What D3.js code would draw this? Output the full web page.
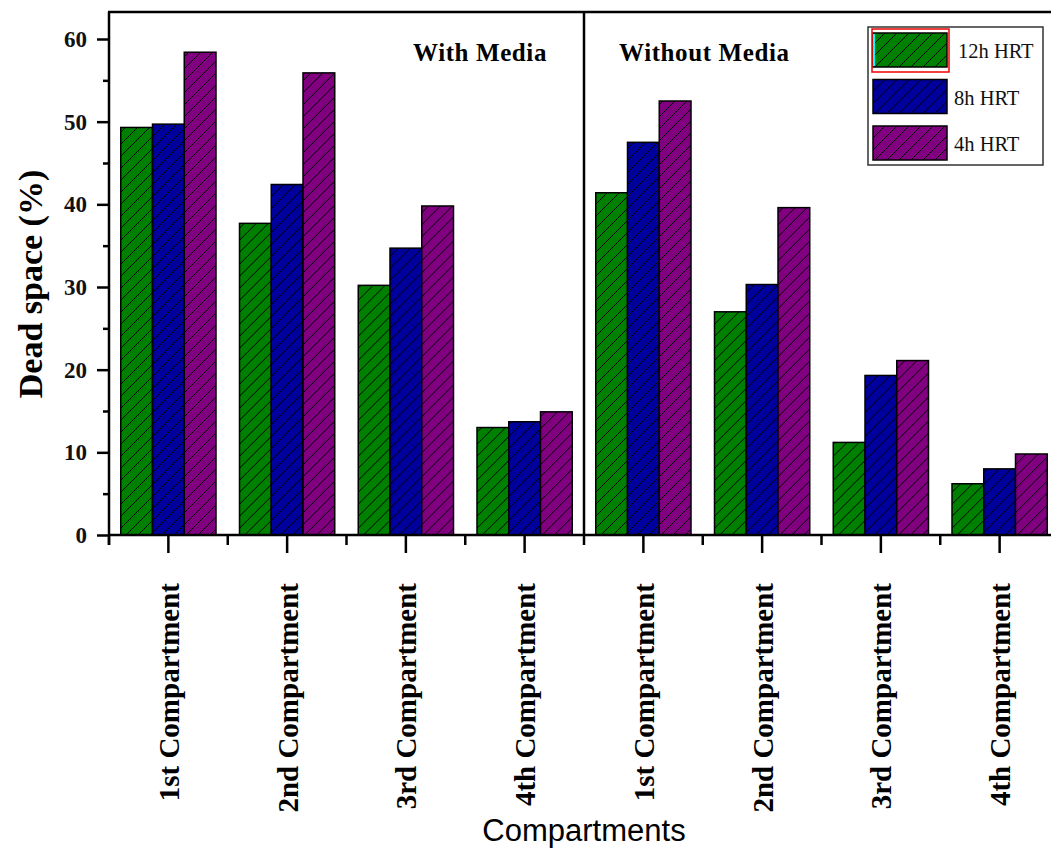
<!DOCTYPE html>
<html>
<head>
<meta charset="utf-8">
<script src="https://cdn.jsdelivr.net/npm/d3@7"></script>
<style>
  html, body { margin: 0; padding: 0; background: #fff; }
  svg { display: block; }
</style>
</head>
<body>
<svg id="chart" width="1051" height="849"></svg>
<script>
// Compartment categories: four with media, four without media
const categories = ["1st Compartment", "2nd Compartment", "3rd Compartment", "4th Compartment",
                    "1st Compartment", "2nd Compartment", "3rd Compartment", "4th Compartment"];
const panelTitles = ["With Media", "Without Media"];
const seriesNames = ["12h HRT", "8h HRT", "4h HRT"];
const seriesColors = ["#008000", "#00009c", "#800080"];

// Dead space (%) per compartment
const hrt12 = [49.3, 37.7, 30.2, 13.0, 41.4, 27.0, 11.2, 6.2];
const hrt8  = [49.7, 42.4, 34.7, 13.7, 47.5, 30.3, 19.3, 8.0];
const hrt4  = [58.4, 55.9, 39.8, 14.9, 52.5, 39.6, 21.1, 9.8];

const yMajorTicks = [0, 10, 20, 30, 40, 50, 60];
const yMinorTicks = [5, 15, 25, 35, 45, 55];

const seriesValues = [hrt12, hrt8, hrt4];
const keys = categories.map((c, i) => i);

const svg = d3.select("#chart");
const serif = "'Liberation Serif', 'Times New Roman', serif";

// Plot frame
const plotLeft = 109, plotTop = 12, plotBottom = 535, plotRight = 1059;

const x = d3.scaleBand().domain(keys).range([plotLeft, plotRight]).paddingInner(0).paddingOuter(0);
const x1 = d3.scaleBand().domain(seriesNames).range([0, x.bandwidth()]).paddingInner(0).paddingOuter(0.37);
const y = d3.scaleLinear().domain([0, (plotBottom - plotTop) / ((plotBottom - 39) / 60)]).range([plotBottom, plotTop]);

// Hatch patterns
const hs = 12;
const defs = svg.append("defs");
seriesNames.forEach((s, i) => {
  const p = defs.append("pattern")
    .attr("id", "hatch" + i)
    .attr("patternUnits", "userSpaceOnUse")
    .attr("width", hs).attr("height", hs);
  p.append("rect").attr("width", hs).attr("height", hs).attr("fill", seriesColors[i]);
  p.append("path")
    .attr("d", `M-1,1 l2,-2 M0,${hs} l${hs},-${hs} M${hs - 1},${hs + 1} l2,-2`)
    .attr("stroke", "#000").attr("stroke-width", 1);
});

// Bars
const groups = svg.append("g").selectAll("g")
  .data(keys).join("g")
  .attr("transform", k => `translate(${x(k)},0)`);

groups.selectAll("rect")
  .data(k => seriesNames.map((s, i) => ({ s, i, v: seriesValues[i][k] })))
  .join("rect")
  .attr("x", d => x1(d.s))
  .attr("y", d => y(d.v))
  .attr("width", x1.bandwidth())
  .attr("height", d => y(0) - y(d.v))
  .attr("fill", d => `url(#hatch${d.i})`)
  .attr("stroke", "#000")
  .attr("stroke-width", 1.5);

// Y axis
const yAxis = svg.append("g").attr("transform", `translate(${plotLeft},0)`);
yAxis.call(d3.axisLeft(y).tickValues(yMajorTicks).tickSize(12).tickPadding(10).tickFormat(d3.format("d")));
yAxis.select(".domain").remove();
yAxis.selectAll(".tick line").attr("stroke", "#000").attr("stroke-width", 2.5);
yAxis.selectAll(".tick text")
  .attr("font-family", serif).attr("font-weight", "bold").attr("font-size", 23).attr("fill", "#111");

const yMinor = svg.append("g").attr("transform", `translate(${plotLeft},0)`);
yMinor.call(d3.axisLeft(y).tickValues(yMinorTicks).tickSize(6).tickFormat(""));
yMinor.select(".domain").remove();
yMinor.selectAll(".tick line").attr("stroke", "#000").attr("stroke-width", 2.5);

// X axis (major ticks at compartment centres)
const xAxis = svg.append("g").attr("transform", `translate(0,${plotBottom})`);
xAxis.call(d3.axisBottom(x).tickSize(18).tickFormat(k => categories[k]));
xAxis.select(".domain").remove();
xAxis.selectAll(".tick line").attr("stroke", "#000").attr("stroke-width", 2.5);
xAxis.selectAll(".tick text")
  .attr("transform", "rotate(-90)")
  .attr("x", -48).attr("y", 0).attr("dy", "0.36em")
  .attr("text-anchor", "end")
  .attr("font-family", serif).attr("font-weight", "bold").attr("font-size", 29).attr("fill", "#000");

// Minor x ticks at category boundaries
const bounds = keys.map(k => x(k)).concat([x(keys[keys.length - 1]) + x.bandwidth()]);
svg.append("g").selectAll("line").data(bounds).join("line")
  .attr("x1", d => d).attr("x2", d => d)
  .attr("y1", plotBottom).attr("y2", plotBottom + 10)
  .attr("stroke", "#000").attr("stroke-width", 2.5);

// Frame lines
svg.append("line").attr("x1", plotLeft - 1).attr("x2", plotRight).attr("y1", plotBottom).attr("y2", plotBottom)
  .attr("stroke", "#000").attr("stroke-width", 2.5);
svg.append("line").attr("x1", plotLeft).attr("x2", plotLeft).attr("y1", plotTop).attr("y2", plotBottom + 10)
  .attr("stroke", "#000").attr("stroke-width", 2.5);
svg.append("line").attr("x1", plotLeft - 1).attr("x2", plotRight).attr("y1", plotTop).attr("y2", plotTop)
  .attr("stroke", "#000").attr("stroke-width", 2.5);

// Divider between the two panels
const divX = x(4);
svg.append("line").attr("x1", divX).attr("x2", divX).attr("y1", plotTop).attr("y2", plotBottom)
  .attr("stroke", "#000").attr("stroke-width", 2.5);

// Panel titles
svg.append("text").attr("x", divX - 37).attr("y", 61).attr("text-anchor", "end")
  .attr("font-family", serif).attr("font-weight", "bold").attr("font-size", 25)
  .attr("letter-spacing", 0.6)
  .text(panelTitles[0]);
svg.append("text").attr("x", divX + 35).attr("y", 61).attr("text-anchor", "start")
  .attr("font-family", serif).attr("font-weight", "bold").attr("font-size", 25)
  .attr("letter-spacing", 0.6)
  .text(panelTitles[1]);

// Axis titles
svg.append("text")
  .attr("transform", "translate(30,284) rotate(-90)")
  .attr("text-anchor", "middle").attr("dy", "0.35em")
  .attr("font-family", serif).attr("font-weight", "bold").attr("font-size", 34)
  .text("Dead space (%)");

svg.append("text")
  .attr("x", divX).attr("y", 841)
  .attr("text-anchor", "middle")
  .attr("font-family", "'Liberation Sans', Arial, sans-serif").attr("font-size", 31)
  .text("Compartments");

// Legend
const legend = svg.append("g");
legend.append("rect").attr("x", 868).attr("y", 27).attr("width", 175).attr("height", 138)
  .attr("fill", "#fff").attr("stroke", "#333").attr("stroke-width", 1.5);
const rows = legend.selectAll("g.row").data(seriesNames).join("g")
  .attr("class", "row")
  .attr("transform", (d, i) => `translate(873,${33 + i * 46.5})`);
rows.append("rect").attr("width", 74).attr("height", 34)
  .attr("fill", (d, i) => `url(#hatch${i})`)
  .attr("stroke", "#000").attr("stroke-width", 1.5);
rows.append("text")
  .attr("x", (d, i) => i === 0 ? 85 : 81).attr("y", 25)
  .attr("font-family", serif).attr("font-size", 20.5).attr("fill", "#111")
  .text(d => d);
// selection highlight on first legend entry
legend.append("rect").attr("x", 872).attr("y", 29).attr("width", 77).attr("height", 43)
  .attr("fill", "none").attr("stroke", "#e00").attr("stroke-width", 1.5);
legend.append("line").attr("x1", 874).attr("x2", 874).attr("y1", 34).attr("y2", 66)
  .attr("stroke", "#0ff").attr("stroke-width", 2);
</script>
</body>
</html>
